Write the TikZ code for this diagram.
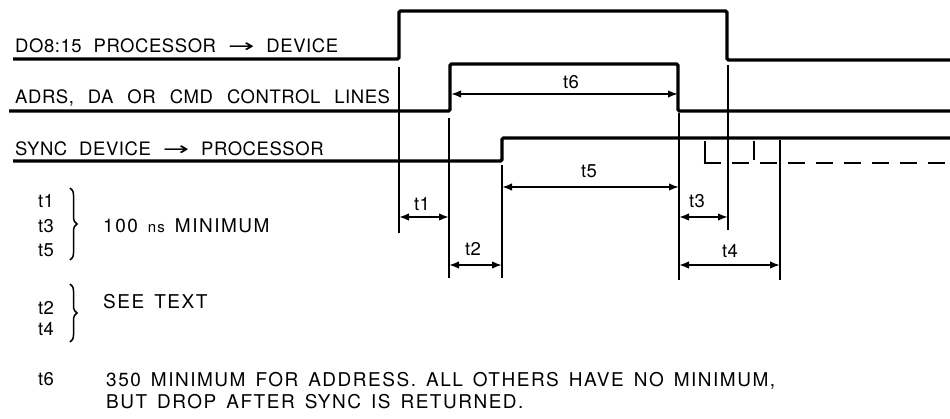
\documentclass[tikz,border=0pt]{standalone}
\usepackage{fontspec}
\setmainfont{TeX Gyre Heros}
\newfontfamily\arrfont{DejaVu Sans}
\usetikzlibrary{arrows.meta,decorations.pathreplacing}
\newcommand{\sigsp}{\addfontfeature{LetterSpace=3}\spaceskip=12pt plus 1pt\relax}
\newcommand{\adrssp}{\addfontfeature{LetterSpace=3}\spaceskip=14pt plus 1pt\relax}
\newcommand{\legsp}{\addfontfeature{LetterSpace=8}\spaceskip=10pt plus 1pt\relax}
\tikzset{
  sig/.style={line width=3.4pt, rounded corners=1.5pt},
  dashsig/.style={line width=2.6pt, dash pattern=on 17pt off 11pt},
  dashedge/.style={line width=2.6pt},
  ext/.style={line width=1.6pt},
  dimline/.style={line width=1.6pt, {Latex[length=10pt,width=7.5pt]}-{Latex[length=10pt,width=7.5pt]}},
  sigtxt/.style={anchor=base west, inner sep=0pt, font=\fontsize{18.5}{22}\selectfont\sigsp},
  tlbl/.style={anchor=base, inner sep=0pt, font=\fontsize{18.5}{20}\selectfont\addfontfeature{LetterSpace=2}},
  legtxt/.style={anchor=base west, inner sep=0pt, font=\fontsize{19}{22}\selectfont\legsp},
  bracestyle/.style={line width=1.5pt, decorate, decoration={brace, amplitude=7pt}}
}
\newcommand{\sigarrow}{{\arrfont\scalebox{1.7}[1]{→}}}
\begin{document}
\begin{tikzpicture}[x=1pt,y=-1pt]
\useasboundingbox (0,0) rectangle (950,419);
% signal labels
\node[sigtxt] (l1) at (15,53) {DO8:15 PROCESSOR \sigarrow\ DEVICE};
\node[sigtxt, font=\fontsize{18.5}{22}\selectfont\adrssp] (l2) at (15,104) {ADRS, DA OR CMD CONTROL LINES};
\node[sigtxt] (l3) at (15,156) {SYNC DEVICE \sigarrow\ PROCESSOR};
% signals
\draw[sig] (13,59) -- (399,59) -- (399,11) -- (727,11) -- (727,60) -- (950,60);
\draw[sig] (9,111) -- (450,111) -- (450,64) -- (678,64) -- (678,111) -- (950,111);
\draw[sig] (13,161) -- (502,161) -- (502,138) -- (950,138);
\draw[dashedge] (705,141) -- (705,163);
\draw[dashsig] (703.7,163) -- (950,163);
\draw[dashedge] (754,141) -- (754,160);
% extension lines
\coordinate (a1) at (399,67);  \coordinate (b1) at (399,233);
\coordinate (a2) at (449,118); \coordinate (b2) at (449,278);
\coordinate (a3) at (502,165); \coordinate (b3) at (502,278);
\coordinate (a4) at (679,113); \coordinate (b4) at (679,280);
\coordinate (a5) at (728,65);  \coordinate (b5) at (728,230);
\coordinate (a6) at (780,140); \coordinate (b6) at (780,280);
\foreach \i in {1,...,6} \draw[ext] (a\i) -- (b\i);
% dimension arrows
\coordinate (t6l) at (451,94);  \coordinate (t6r) at (678,94);
\coordinate (t5l) at (502,187); \coordinate (t5r) at (679,187);
\coordinate (t1l) at (399,217); \coordinate (t1r) at (449,217);
\coordinate (t2l) at (449,265); \coordinate (t2r) at (502,265);
\coordinate (t3l) at (679,217); \coordinate (t3r) at (728,217);
\coordinate (t4l) at (679,265); \coordinate (t4r) at (780,265);
\draw[dimline] (t6l) -- (t6r);
\draw[dimline] (t5l) -- (t5r);
\draw[dimline] (t1l) -- (t1r);
\draw[dimline] (t2l) -- (t2r);
\draw[dimline] (t3l) -- (t3r);
\draw[dimline] (t4l) -- (t4r);
\node[tlbl] (n6) at (571,89) {t6};
\node[tlbl] (n5) at (589,178) {t5};
\node[tlbl] (n1) at (422,211) {t1};
\node[tlbl] (n2) at (473,256) {t2};
\node[tlbl] (n3) at (697,208) {t3};
\node[tlbl] (n4) at (730,258) {t4};
% legend
\node[tlbl, anchor=base west] (k1) at (38,208) {t1};
\node[tlbl, anchor=base west] (k3) at (38,233) {t3};
\node[tlbl, anchor=base west] (k5) at (38,257) {t5};
\draw[bracestyle] (70,188) -- (70,260);
\node[legtxt] (m1) at (103,233) {100 {\fontsize{15}{17}\selectfont ns} MINIMUM};
\node[tlbl, anchor=base west] (k2) at (38,315) {t2};
\node[tlbl, anchor=base west] (k4) at (38,336) {t4};
\draw[bracestyle] (70,284) -- (70,342);
\node[legtxt] (m2) at (103,309) {SEE TEXT};
\node[tlbl, anchor=base west] (k6) at (38,385) {t6};
\node[legtxt] (m3) at (106,386) {350 MINIMUM FOR ADDRESS. ALL OTHERS HAVE NO MINIMUM,};
\node[legtxt] (m4) at (106,408) {BUT DROP AFTER SYNC IS RETURNED.};
\end{tikzpicture}
\end{document}
